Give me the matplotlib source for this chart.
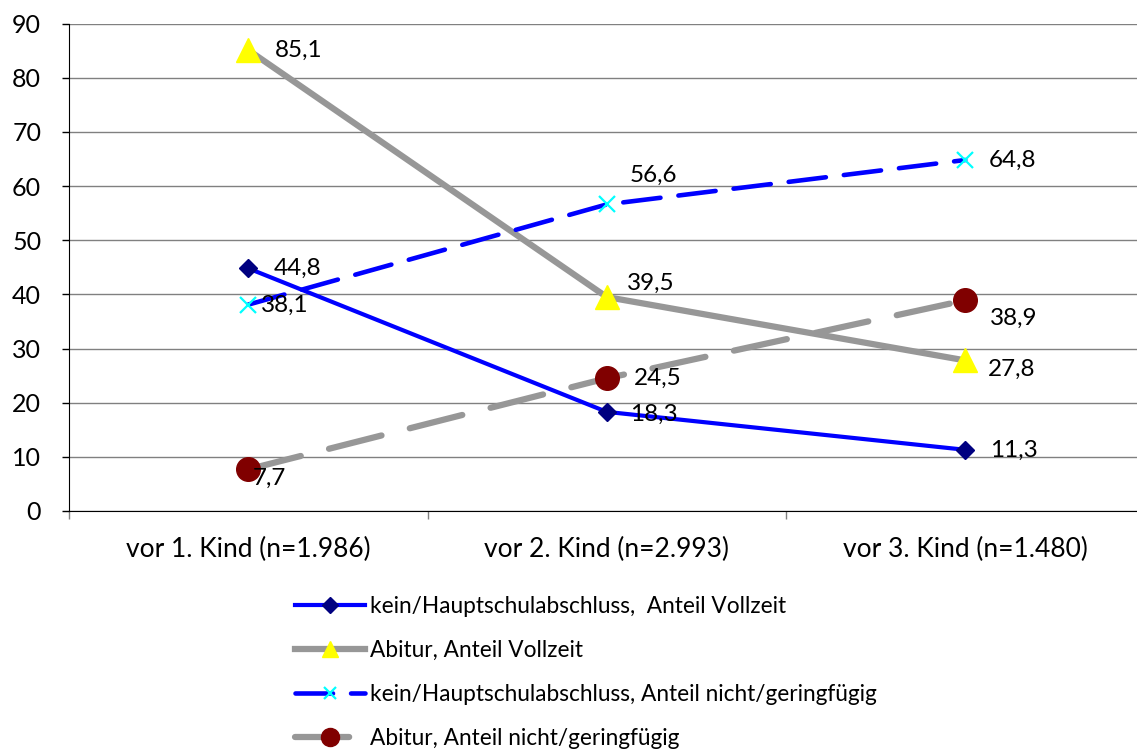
import matplotlib
matplotlib.use("Agg")
from matplotlib import pyplot as plt
from matplotlib.lines import Line2D
import numpy as np

plt.rcParams['font.family'] = ['Lato', 'DejaVu Sans']
plt.rcParams['lines.scale_dashes'] = False

#%% data
categories = ["vor 1. Kind (n=1.986)", "vor 2. Kind (n=2.993)", "vor 3. Kind (n=1.480)"]
kein_vollzeit = [44.8, 18.3, 11.3]
abi_vollzeit = [85.1, 39.5, 27.8]
kein_nicht = [38.1, 56.6, 64.8]
abi_nicht = [7.7, 24.5, 38.9]
labels = ["kein/Hauptschulabschluss,  Anteil Vollzeit",
          "Abitur, Anteil Vollzeit",
          "kein/Hauptschulabschluss, Anteil nicht/geringfügig",
          "Abitur, Anteil nicht/geringfügig"]

# label offsets in pixels (per point)
off_kv = [(25, 0), (23, -2), (25, -1)]
off_av = [(27, 0), (20, 14), (23, -9)]
off_kn = [(13, -1), (23, 29), (23, 0)]
off_an = [(4, -9), (27, 0), (25, -18)]

#%%
x = np.arange(len(categories))
fig = plt.figure(figsize=(11.37, 7.56), dpi=100)
ax = fig.add_axes([69 / 1137, 1 - 511 / 756, 1075.5 / 1137, 487.5 / 756])

styles = [
    dict(color='#0000FF', lw=3.0, marker='D', mfc='#000080', mec='#000080'),
    dict(color='#979797', lw=4.5, marker='^', mfc='#FFFF00', mec='#FFFF00'),
    dict(color='#0000FF', lw=3.3, marker='x', mew=1.6, mfc='#00FFFF', mec='#00FFFF',
         dashes=(27, 13), dash_capstyle='round'),
    dict(color='#979797', lw=4.5, marker='o', mfc='#800000', mec='#800000',
         dashes=(39, 21), dash_capstyle='round'),
]
sizes = [9.5, 17, 11, 17]
leg_sizes = [8, 12, 9, 13]
series = [kein_vollzeit, abi_vollzeit, kein_nicht, abi_nicht]
zs = [4, 3, 4, 3]

for vals, st, ms, z in zip(series, styles, sizes, zs):
    ax.plot(x, vals, ms=ms, zorder=z, **st)

for vals, offs in zip(series, [off_kv, off_av, off_kn, off_an]):
    for xi, v, (dx, dy) in zip(x, vals, offs):
        ax.annotate(f"{v:.1f}".replace('.', ','), (xi, v), xytext=(dx, dy),
                    textcoords='offset pixels', ha='left', va='center',
                    fontsize=17.5, color='black', zorder=6)

ax.set_xlim(-0.5, 2.5)
ax.set_ylim(0, 90)
ax.set_yticks(np.arange(0, 91, 10))
ax.set_xticks(x)
ax.set_xticklabels(categories)
ax.set_xticks([-0.5, 0.5, 1.5, 2.5], minor=True)
ax.tick_params(axis='x', which='major', length=0, pad=19, labelsize=19)
ax.tick_params(axis='x', which='minor', length=6, width=1, color='#808080')
ax.tick_params(axis='y', length=5, width=1, pad=15, labelsize=18)
ax.grid(axis='y', color='#808080', lw=1)
ax.set_axisbelow(True)
for s in ['top', 'right']:
    ax.spines[s].set_visible(False)
ax.spines['left'].set_color('black')
ax.spines['bottom'].set_color('black')

handles = [Line2D([], [], ms=m, **st) for st, m in zip(styles, leg_sizes)]
leg = fig.legend(handles, labels, loc='upper left',
                 bbox_to_anchor=(295 / 1137, 1 - 596 / 756), frameon=False,
                 fontsize=16.3, handlelength=3.1, handletextpad=0.2,
                 labelspacing=1.02, numpoints=1, borderpad=0, borderaxespad=0)

fig.savefig("out.png", dpi=100)
